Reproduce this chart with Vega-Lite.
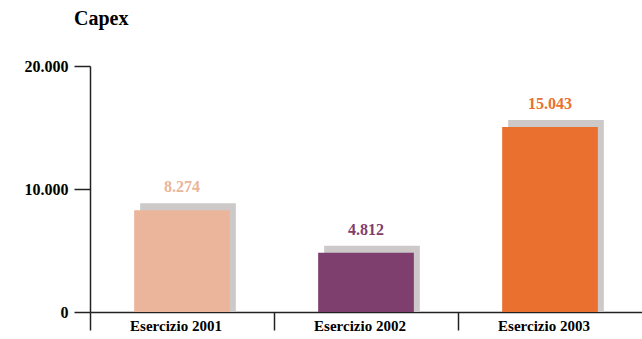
{
  "$schema": "https://vega.github.io/schema/vega-lite/v6.json",
  "autosize": "none",
  "width": 552,
  "height": 246,
  "padding": {"left": 90, "top": 66, "right": 0, "bottom": 27},
  "background": "white",
  "title": {
    "text": "Capex",
    "anchor": "start",
    "frame": "group",
    "dx": -16,
    "offset": 29,
    "font": "Liberation Serif",
    "fontSize": 20,
    "fontWeight": "bold",
    "color": "#000000"
  },
  "data": {
    "values": [
      {"periodo": "Esercizio 2001", "capex": 8274, "etichetta": "8.274", "colore": "#EAB59A"},
      {"periodo": "Esercizio 2002", "capex": 4812, "etichetta": "4.812", "colore": "#7E3F6F"},
      {"periodo": "Esercizio 2003", "capex": 15043, "etichetta": "15.043", "colore": "#E9702F"}
    ]
  },
  "encoding": {
    "x": {
      "field": "periodo",
      "type": "nominal",
      "sort": null,
      "scale": {"paddingInner": 0, "paddingOuter": 0},
      "axis": {
        "title": null,
        "labelAngle": 0,
        "bandPosition": 0,
        "tickSize": 18,
        "tickWidth": 1.5,
        "tickColor": "#222222",
        "domainColor": "#222222",
        "domainWidth": 1.5,
        "labelPadding": -12,
        "labelOffset": -6,
        "labelFont": "Liberation Serif",
        "labelFontSize": 15,
        "labelFontWeight": "bold",
        "labelColor": "#000000"
      }
    },
    "y": {
      "field": "capex",
      "type": "quantitative",
      "stack": null,
      "scale": {"domain": [0, 20000], "nice": false},
      "axis": {
        "title": null,
        "values": [0, 10000, 20000],
        "grid": false,
        "tickSize": 16,
        "tickWidth": 1.5,
        "tickColor": "#222222",
        "domainColor": "#222222",
        "domainWidth": 1.5,
        "labelPadding": 6,
        "labelFont": "Liberation Serif",
        "labelFontSize": 16,
        "labelFontWeight": "bold",
        "labelColor": "#000000",
        "labelExpr": "replace(format(datum.value, ','), ',', '.')"
      }
    }
  },
  "layer": [
    {
      "mark": {
        "type": "bar",
        "color": "#cdc9c9",
        "width": {"band": 0.52},
        "xOffset": 6,
        "yOffset": -7,
        "y2Offset": 0
      },
      "encoding": {
        "y2": {"datum": 0}
      }
    },
    {
      "mark": {"type": "bar", "width": {"band": 0.52}},
      "encoding": {
        "color": {"field": "colore", "type": "nominal", "scale": null, "legend": null}
      }
    },
    {
      "mark": {
        "type": "text",
        "dy": -15,
        "baseline": "bottom",
        "font": "Liberation Serif",
        "fontSize": 16,
        "fontWeight": "bold"
      },
      "encoding": {
        "text": {"field": "etichetta"},
        "color": {"field": "colore", "type": "nominal", "scale": null, "legend": null}
      }
    }
  ],
  "config": {"view": {"stroke": null}}
}
